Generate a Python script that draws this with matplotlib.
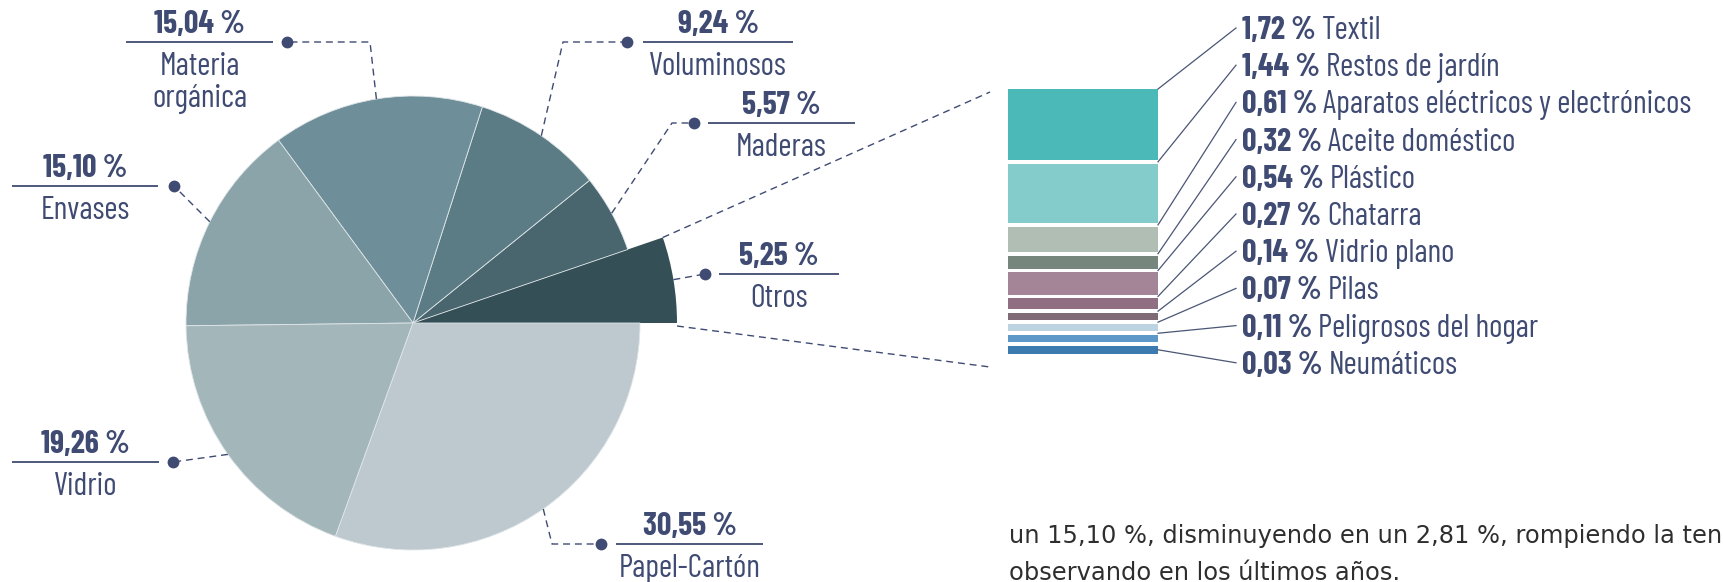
"""Composición de residuos: pie chart with 'Otros' broken out into a stacked bar."""

import matplotlib
matplotlib.use("Agg")
import matplotlib.pyplot as plt
from matplotlib import font_manager
import numpy as np

# ── Data ─────────────────────────────────────────────────────────────────
pie_labels = ["Otros", "Maderas", "Voluminosos", "Materia\norgánica",
              "Envases", "Vidrio", "Papel-Cartón"]
pie_values = [5.25, 5.57, 9.24, 15.04, 15.10, 19.26, 30.55]

otros_labels = ["Textil", "Restos de jardín", "Aparatos eléctricos y electrónicos",
                "Aceite doméstico", "Plástico", "Chatarra", "Vidrio plano",
                "Pilas", "Peligrosos del hogar", "Neumáticos"]
otros_values = [1.72, 1.44, 0.61, 0.32, 0.54, 0.27, 0.14, 0.07, 0.11, 0.03]

body_lines = ["un 15,10 %, disminuyendo en un 2,81 %, rompiendo la ten",
              "observando en los últimos años."]

# ── Style ────────────────────────────────────────────────────────────────
pie_colors = ["#354f57", "#49666e", "#5b7c85", "#6e8f99",
              "#8aa4aa", "#a3b7bb", "#bec9cf"]
otros_colors = ["#4ab9b7", "#84cccb", "#b1beb4", "#77867d", "#a38597",
                "#8f6f81", "#7f6b75", "#bcd4e1", "#5e98c8", "#3b7bb0"]
TXT = "#3f4b72"
BODY = "#2e2e2e"

installed = {f.name for f in font_manager.fontManager.ttflist}
COND = [f for f in ("Barlow Condensed", "Asap Condensed", "Archivo Narrow")
        if f in installed] + ["DejaVu Sans"]
FS = 23

# ── Layout (pixel coordinates, y downwards) ──────────────────────────────
W, H = 1723, 582
PIE_CENTER = (413, 323)
PIE_R = 227
OTROS_R = 264
# callout per pie label: dot x, dot y, underline x0, x1, elbow x (or None)
callouts = {
    "Otros": (705, 274, 719, 839, None),
    "Maderas": (694, 123, 708, 855, 672),
    "Voluminosos": (627, 42, 643, 793, 563),
    "Materia\norgánica": (287, 42, 126, 273, 370),
    "Envases": (174, 186, 12, 158, None),
    "Vidrio": (173, 462, 12, 159, None),
    "Papel-Cartón": (601, 544, 616, 763, 552),
}
BAR_X0, BAR_X1, BAR_TOP = 1008, 1158, 89
PX_PER_PCT = 41.3
MIN_PCT = 0.18
GAP = 3.6
LABEL_X = 1242
ROW0, ROW_STEP = 28, 37.2
BODY_X, BODY_RIGHT = 1009, 1722


def pct(v):
    return f"{v:.2f}".replace(".", ",") + " %"


fig = plt.figure(figsize=(W / 100, H / 100), dpi=100)
ax = fig.add_axes([0, 0, 1, 1])

wedges, _ = ax.pie(pie_values, colors=pie_colors, startangle=0, counterclock=False,
                   center=PIE_CENTER, radius=PIE_R,
                   wedgeprops=dict(edgecolor="#dfe5e8", linewidth=0.6))
wedges[0].set_radius(OTROS_R)
wedges[0].set_edgecolor("none")
ax.set_aspect("auto")
ax.set_xlim(0, W)
ax.set_ylim(H, 0)
ax.axis("off")

dash = (0, (5, 3.5))

# ── Pie callouts ─────────────────────────────────────────────────────────
for w, label, val in zip(wedges, pie_labels, pie_values):
    dx, dy, x0, x1, elbow = callouts[label]
    mid = np.deg2rad((w.theta1 + w.theta2) / 2)
    r = w.r
    xs = [PIE_CENTER[0] + r * np.cos(mid)]
    ys = [PIE_CENTER[1] + r * np.sin(mid)]
    if elbow is not None:
        xs.append(elbow)
        ys.append(dy)
    xs.append(dx)
    ys.append(dy)
    ax.plot(xs, ys, color=TXT, lw=1.0, ls=dash)
    ax.plot(dx, dy, "o", color=TXT, ms=8.5, mec="none")
    ax.plot([x0, x1], [dy, dy], color=TXT, lw=1.3, solid_capstyle="butt")
    xc = (x0 + x1) / 2
    ax.text(xc, dy - 9, pct(val), ha="center", va="baseline", color=TXT,
            fontsize=FS, fontweight="bold", family=COND)
    for k, line in enumerate(label.split("\n")):
        ax.text(xc, dy + 33 + 32 * k, line, ha="center", va="baseline",
                color=TXT, fontsize=FS, family=COND)

# ── Dashed connectors from 'Otros' to the stacked bar ───────────────────
t_hi = np.deg2rad(wedges[0].theta1)
t_lo = np.deg2rad(wedges[0].theta2)
ax.plot([PIE_CENTER[0] + OTROS_R * np.cos(t_hi), 990],
        [PIE_CENTER[1] + OTROS_R * np.sin(t_hi), 92], color=TXT, lw=1.0, ls=dash)
ax.plot([PIE_CENTER[0] + OTROS_R * np.cos(t_lo), 990],
        [PIE_CENTER[1] + OTROS_R * np.sin(t_lo) + 3, 367], color=TXT, lw=1.0, ls=dash)

# ── Stacked bar for 'Otros' breakdown ────────────────────────────────────
heights = np.maximum(otros_values, MIN_PCT) * PX_PER_PCT
tops = BAR_TOP + np.concatenate([[0], np.cumsum(heights + GAP)[:-1]])
ax.bar((BAR_X0 + BAR_X1) / 2, heights, width=BAR_X1 - BAR_X0, bottom=tops,
       color=otros_colors, align="center")

fig.canvas.draw()
renderer = fig.canvas.get_renderer()
inv = ax.transData.inverted()
n = len(otros_labels)
for i, (lab, val) in enumerate(zip(otros_labels, otros_values)):
    yc = ROW0 + ROW_STEP * i
    if i == 0:
        end_y = tops[i]
    elif i == n - 1:
        end_y = tops[i] + heights[i] / 2
    else:
        end_y = tops[i] - GAP / 2
    ax.plot([LABEL_X - 6, BAR_X1], [yc, end_y], color="#4a5675", lw=0.9)
    t = ax.text(LABEL_X, yc + 11, pct(val), ha="left", va="baseline", color=TXT,
                fontsize=FS, fontweight="bold", family=COND)
    bb = t.get_window_extent(renderer)
    x_end = inv.transform((bb.x1, bb.y0))[0]
    ax.text(x_end + 6, yc + 11, lab, ha="left", va="baseline", color=TXT,
            fontsize=FS, family=COND)

# ── Body text fragment (sized so the first line runs to the page edge) ──
first = ax.text(BODY_X, 543, body_lines[0], ha="left", va="baseline", color=BODY,
                fontsize=18, family="DejaVu Sans")
bb = first.get_window_extent(renderer)
body_fs = 18 * (BODY_RIGHT - BODY_X) / bb.width
first.set_fontsize(body_fs)
ax.text(BODY_X, 580, body_lines[1], ha="left", va="baseline", color=BODY,
        fontsize=body_fs, family="DejaVu Sans")

fig.savefig("out.png", dpi=100, facecolor="white")
